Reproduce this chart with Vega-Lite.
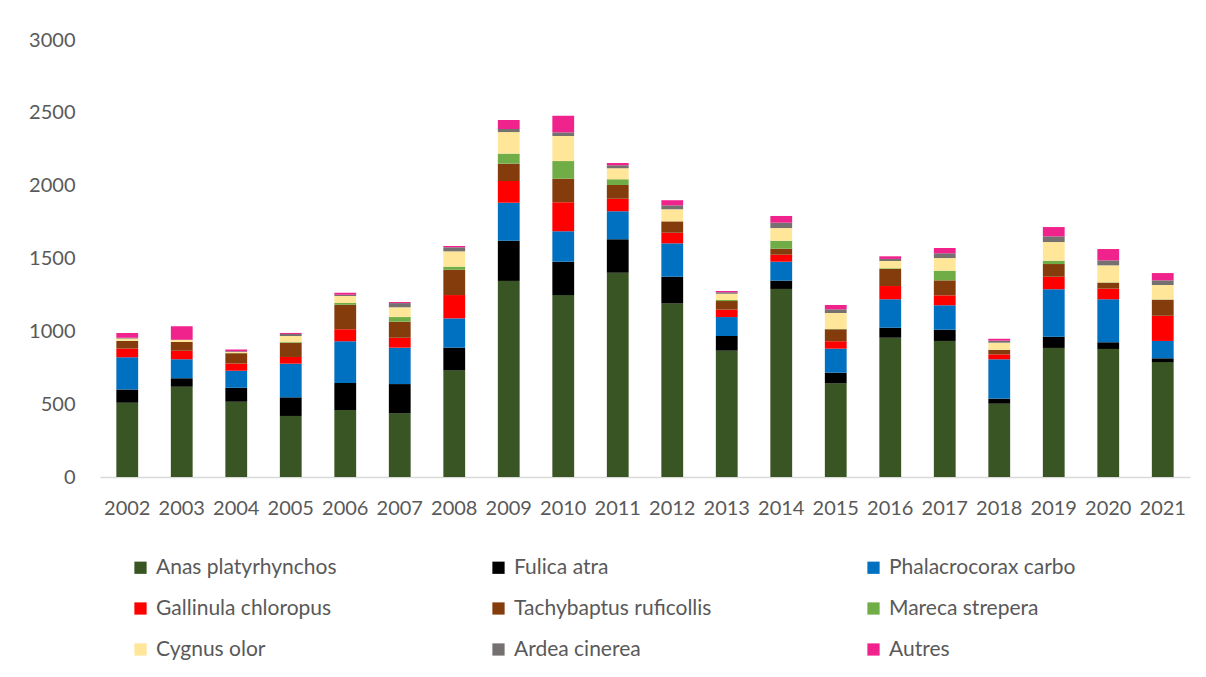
{
  "$schema": "https://vega.github.io/schema/vega-lite/v6.json",
  "autosize": "none",
  "width": 1090,
  "height": 437,
  "padding": {"left": 100, "top": 40, "right": 16, "bottom": 200},
  "background": "white",
  "config": {
    "view": {"stroke": null},
    "font": "Lato"
  },
  "data": {
    "values": [
      {"year": "2002", "Anas platyrhynchos": 510, "Fulica atra": 90, "Phalacrocorax carbo": 222, "Gallinula chloropus": 61, "Tachybaptus ruficollis": 51, "Mareca strepera": 2, "Cygnus olor": 15, "Ardea cinerea": 5, "Autres": 32},
      {"year": "2003", "Anas platyrhynchos": 620, "Fulica atra": 58, "Phalacrocorax carbo": 130, "Gallinula chloropus": 59, "Tachybaptus ruficollis": 60, "Mareca strepera": 0, "Cygnus olor": 14, "Ardea cinerea": 2, "Autres": 92},
      {"year": "2004", "Anas platyrhynchos": 517, "Fulica atra": 96, "Phalacrocorax carbo": 117, "Gallinula chloropus": 50, "Tachybaptus ruficollis": 69, "Mareca strepera": 3, "Cygnus olor": 6, "Ardea cinerea": 6, "Autres": 11},
      {"year": "2005", "Anas platyrhynchos": 419, "Fulica atra": 128, "Phalacrocorax carbo": 231, "Gallinula chloropus": 46, "Tachybaptus ruficollis": 98, "Mareca strepera": 4, "Cygnus olor": 42, "Ardea cinerea": 14, "Autres": 7},
      {"year": "2006", "Anas platyrhynchos": 460, "Fulica atra": 185, "Phalacrocorax carbo": 287, "Gallinula chloropus": 82, "Tachybaptus ruficollis": 169, "Mareca strepera": 11, "Cygnus olor": 49, "Ardea cinerea": 9, "Autres": 13},
      {"year": "2007", "Anas platyrhynchos": 437, "Fulica atra": 201, "Phalacrocorax carbo": 250, "Gallinula chloropus": 68, "Tachybaptus ruficollis": 110, "Mareca strepera": 32, "Cygnus olor": 67, "Ardea cinerea": 29, "Autres": 7},
      {"year": "2008", "Anas platyrhynchos": 732, "Fulica atra": 156, "Phalacrocorax carbo": 201, "Gallinula chloropus": 160, "Tachybaptus ruficollis": 174, "Mareca strepera": 21, "Cygnus olor": 105, "Ardea cinerea": 28, "Autres": 9},
      {"year": "2009", "Anas platyrhynchos": 1346, "Fulica atra": 276, "Phalacrocorax carbo": 261, "Gallinula chloropus": 149, "Tachybaptus ruficollis": 119, "Mareca strepera": 69, "Cygnus olor": 148, "Ardea cinerea": 21, "Autres": 62},
      {"year": "2010", "Anas platyrhynchos": 1249, "Fulica atra": 229, "Phalacrocorax carbo": 209, "Gallinula chloropus": 199, "Tachybaptus ruficollis": 162, "Mareca strepera": 121, "Cygnus olor": 172, "Ardea cinerea": 25, "Autres": 114},
      {"year": "2011", "Anas platyrhynchos": 1402, "Fulica atra": 230, "Phalacrocorax carbo": 192, "Gallinula chloropus": 87, "Tachybaptus ruficollis": 94, "Mareca strepera": 39, "Cygnus olor": 75, "Ardea cinerea": 21, "Autres": 16},
      {"year": "2012", "Anas platyrhynchos": 1192, "Fulica atra": 183, "Phalacrocorax carbo": 229, "Gallinula chloropus": 73, "Tachybaptus ruficollis": 78, "Mareca strepera": 0, "Cygnus olor": 83, "Ardea cinerea": 27, "Autres": 35},
      {"year": "2013", "Anas platyrhynchos": 867, "Fulica atra": 101, "Phalacrocorax carbo": 130, "Gallinula chloropus": 51, "Tachybaptus ruficollis": 59, "Mareca strepera": 7, "Cygnus olor": 43, "Ardea cinerea": 10, "Autres": 9},
      {"year": "2014", "Anas platyrhynchos": 1291, "Fulica atra": 57, "Phalacrocorax carbo": 130, "Gallinula chloropus": 48, "Tachybaptus ruficollis": 41, "Mareca strepera": 55, "Cygnus olor": 87, "Ardea cinerea": 37, "Autres": 46},
      {"year": "2015", "Anas platyrhynchos": 643, "Fulica atra": 73, "Phalacrocorax carbo": 165, "Gallinula chloropus": 51, "Tachybaptus ruficollis": 82, "Mareca strepera": 2, "Cygnus olor": 110, "Ardea cinerea": 25, "Autres": 30},
      {"year": "2016", "Anas platyrhynchos": 956, "Fulica atra": 69, "Phalacrocorax carbo": 195, "Gallinula chloropus": 91, "Tachybaptus ruficollis": 117, "Mareca strepera": 5, "Cygnus olor": 50, "Ardea cinerea": 14, "Autres": 18},
      {"year": "2017", "Anas platyrhynchos": 934, "Fulica atra": 77, "Phalacrocorax carbo": 168, "Gallinula chloropus": 68, "Tachybaptus ruficollis": 103, "Mareca strepera": 66, "Cygnus olor": 87, "Ardea cinerea": 33, "Autres": 36},
      {"year": "2018", "Anas platyrhynchos": 503, "Fulica atra": 35, "Phalacrocorax carbo": 270, "Gallinula chloropus": 34, "Tachybaptus ruficollis": 30, "Mareca strepera": 2, "Cygnus olor": 48, "Ardea cinerea": 14, "Autres": 13},
      {"year": "2019", "Anas platyrhynchos": 886, "Fulica atra": 77, "Phalacrocorax carbo": 326, "Gallinula chloropus": 86, "Tachybaptus ruficollis": 87, "Mareca strepera": 23, "Cygnus olor": 128, "Ardea cinerea": 39, "Autres": 64},
      {"year": "2020", "Anas platyrhynchos": 879, "Fulica atra": 46, "Phalacrocorax carbo": 295, "Gallinula chloropus": 73, "Tachybaptus ruficollis": 41, "Mareca strepera": 2, "Cygnus olor": 117, "Ardea cinerea": 34, "Autres": 78},
      {"year": "2021", "Anas platyrhynchos": 789, "Fulica atra": 26, "Phalacrocorax carbo": 119, "Gallinula chloropus": 173, "Tachybaptus ruficollis": 110, "Mareca strepera": 2, "Cygnus olor": 99, "Ardea cinerea": 32, "Autres": 50}
    ]
  },
  "transform": [
    {"fold": ["Anas platyrhynchos", "Fulica atra", "Phalacrocorax carbo", "Gallinula chloropus", "Tachybaptus ruficollis", "Mareca strepera", "Cygnus olor", "Ardea cinerea", "Autres"], "as": ["species", "count"]},
    {"window": [{"op": "row_number", "as": "rank"}], "groupby": ["year"]}
  ],
  "mark": {"type": "bar"},
  "encoding": {
    "x": {
      "field": "year", "type": "ordinal",
      "scale": {"paddingInner": 0.6, "paddingOuter": 0.3},
      "axis": {
        "title": null, "labelAngle": 0, "ticks": false,
        "domainColor": "#D9D9D9", "domainWidth": 1.5,
        "labelFontSize": 20, "labelColor": "#595959", "labelPadding": 21
      }
    },
    "y": {
      "field": "count", "type": "quantitative", "stack": "zero",
      "scale": {"domain": [0, 3000]},
      "axis": {
        "title": null, "values": [0, 500, 1000, 1500, 2000, 2500, 3000], "format": "d",
        "grid": false, "domain": false, "ticks": false,
        "labelFontSize": 20, "labelColor": "#595959", "labelPadding": 25
      }
    },
    "order": {"field": "rank", "type": "quantitative", "sort": "ascending"},
    "color": {
      "field": "species", "type": "nominal",
      "scale": {
        "domain": ["Anas platyrhynchos", "Fulica atra", "Phalacrocorax carbo", "Gallinula chloropus", "Tachybaptus ruficollis", "Mareca strepera", "Cygnus olor", "Ardea cinerea", "Autres"],
        "range": ["#3A5524", "#000000", "#0070C0", "#FF0000", "#843C0C", "#70AD47", "#FFE699", "#767171", "#F0228C"]
      },
      "legend": {
        "title": null, "orient": "none", "legendX": 30, "legendY": 517,
        "direction": "horizontal", "columns": 3,
        "columnPadding": 151, "rowPadding": 19,
        "symbolType": "square", "symbolSize": 150, "symbolStrokeWidth": 0,
        "labelFontSize": 21, "labelColor": "#595959", "labelOffset": 5,
        "labelLimit": 400
      }
    }
  }
}
